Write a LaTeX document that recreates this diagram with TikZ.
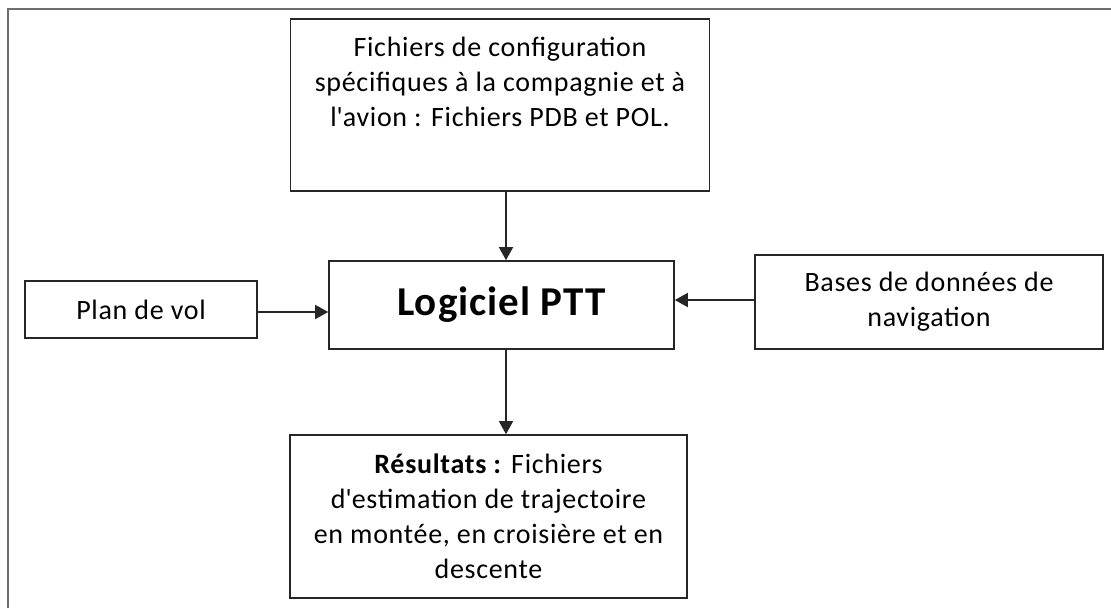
\documentclass[tikz,border=0pt]{standalone}
\usepackage{fontspec}
\setmainfont{Carlito}[LetterSpace=2.5]
\usepackage{tikz}
\usetikzlibrary{arrows.meta}
\definecolor{boxline}{HTML}{262626}
\definecolor{frameline}{HTML}{6e6e6e}

\begin{document}
\begin{tikzpicture}[x=1pt, y=-1pt,
every node/.style = {shape=rectangle, line width=1.6pt, draw=boxline,
  align=center, inner sep=0pt, font=\fontsize{28}{35}\selectfont},
flow/.style = {line width=1.5pt, draw=boxline,
  -{Triangle[length=13pt, width=14pt]}},
frame/.style = {line width=2.6pt, draw=frameline}
]
\useasboundingbox (0,0) rectangle (1111,608);
\draw [frame] (8,608) -- (8,9) -- (1111,9);

\node [minimum width=419pt, minimum height=172pt] (config) at (500,105)
  {Fichiers de configuration\\ sp\'ecifiques \`a la compagnie et \`a\\
   l\textquotesingle avion : Fichiers PDB et POL.\\ \strut};
\node [minimum width=345pt, minimum height=88pt,
  font=\fontsize{41}{48}\selectfont\bfseries] (logiciel) at (501.5,305)
  {Logiciel PTT};
\node [minimum width=232pt, minimum height=57pt] (plan) at (141,309.5)
  {Plan de vol};
\node [minimum width=348pt, minimum height=94pt] (bases) at (929,302)
  {Bases de donn\'ees de\\ navigation};
\node [minimum width=397pt, minimum height=163pt] (resultats) at (488.5,516.5)
  {\textbf{R\'esultats :} Fichiers\\ d\textquotesingle estimation de trajectoire\\
   en mont\'ee, en croisi\`ere et en\\ descente};

\draw [flow] ([xshift=6pt]config.south) -- ([xshift=4.5pt]logiciel.north);
\draw [flow] ([yshift=-2.5pt]plan.east) -- ([yshift=-2.5pt]plan.east -| logiciel.west);
\draw [flow] ([yshift=2pt]bases.west) -- ([yshift=2pt]bases.west -| logiciel.east);
\draw [flow] ([xshift=4.5pt]logiciel.south)
  -- ([xshift=4.5pt]logiciel.south |- resultats.north);

\end{tikzpicture}
\end{document}
